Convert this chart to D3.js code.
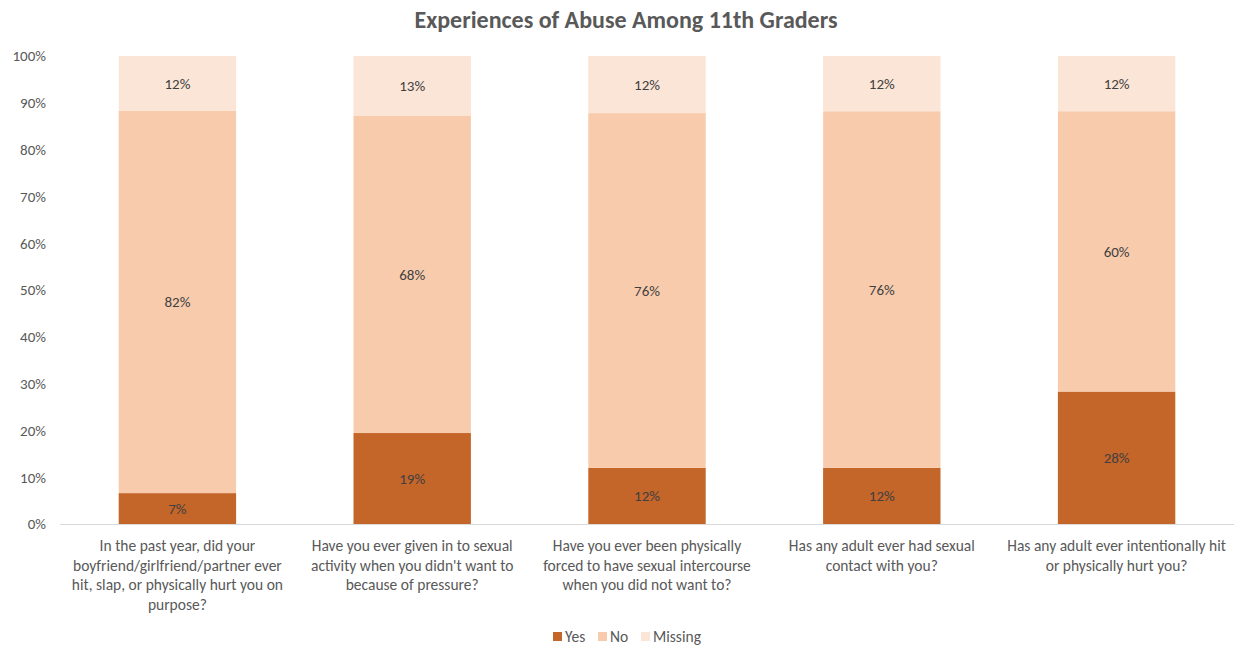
<html>
<head>
    <style>
        body { margin: 0; background: #fff; }
        text { font-family: Carlito, Lato, "Liberation Sans", sans-serif; }
        .tick text { fill: #595959; font-size: 15px; }
        .cat text { fill: #595959; font-size: 15.5px; text-anchor: middle; }
        .lbl { fill: #404040; font-size: 15px; text-anchor: middle; }
        .title { fill: #595959; font-size: 24px; font-weight: bold; text-anchor: middle; }
        .legend text { fill: #595959; font-size: 15.5px; }
    </style>
    <script src="https://d3js.org/d3.v7.min.js"></script>
</head>
<body>
    <svg width="1242" height="647"></svg>
    <script>
        // questions (line breaks as shown on the chart)
        var categories = [
            "In the past year, did your\nboyfriend/girlfriend/partner ever\nhit, slap, or physically hurt you on\npurpose?",
            "Have you ever given in to sexual\nactivity when you didn't want to\nbecause of pressure?",
            "Have you ever been physically\nforced to have sexual intercourse\nwhen you did not want to?",
            "Has any adult ever had sexual\ncontact with you?",
            "Has any adult ever intentionally hit\nor physically hurt you?"
        ];
        var seriesNames = ["Yes", "No", "Missing"];
        var yes = [6.6, 19.4, 12.0, 12.0, 28.3];
        var no = [81.7, 67.6, 75.8, 76.2, 59.9];
        var missing = [11.7, 12.8, 12.2, 11.8, 11.8];
        var yTicks = [0, 0.1, 0.2, 0.3, 0.4, 0.5, 0.6, 0.7, 0.8, 0.9, 1];
        var colors = ["#C46529", "#F8CBAD", "#FBE5D6"];

        var svg = d3.select("svg"),
            plotLeft = 60, plotRight = 1234, plotTop = 56, plotBottom = 524;

        var rows = categories.map(function(c, i) {
            var total = yes[i] + no[i] + missing[i];
            return { cat: c, Yes: yes[i] / total, No: no[i] / total, Missing: missing[i] / total,
                     raw: { Yes: yes[i], No: no[i], Missing: missing[i] } };
        });

        var x = d3.scaleBand().domain(categories).range([plotLeft, plotRight]).paddingInner(0.5).paddingOuter(0.25);
        var y = d3.scaleLinear().domain([0, 1]).range([plotBottom, plotTop]);
        var color = d3.scaleOrdinal().domain(seriesNames).range(colors);

        var stacked = d3.stack().keys(seriesNames)(rows);

        svg.append("text")
           .attr("class", "title")
           .attr("x", 626).attr("y", 28)
           .text("Experiences of Abuse Among 11th Graders");

        // y axis
        var yAxis = svg.append("g")
           .attr("transform", "translate(" + plotLeft + ",0)")
           .call(d3.axisLeft(y).tickValues(yTicks).tickFormat(d3.format(".0%")).tickSize(0).tickPadding(14));
        yAxis.select(".domain").remove();

        var layer = svg.selectAll(".layer")
           .data(stacked)
           .enter().append("g")
           .attr("class", "layer")
           .attr("fill", function(d) { return color(d.key); });

        layer.selectAll("rect")
             .data(function(d) { return d; })
             .enter().append("rect")
             .attr("x", function(d) { return x(d.data.cat); })
             .attr("width", x.bandwidth())
             .attr("y", function(d) { return y(d[1]); })
             .attr("height", function(d) { return y(d[0]) - y(d[1]); });

        layer.each(function(s) {
            d3.select(this).selectAll(".lbl")
              .data(s)
              .enter().append("text")
              .attr("class", "lbl")
              .attr("x", function(d) { return x(d.data.cat) + x.bandwidth() / 2; })
              .attr("y", function(d) { return (y(d[0]) + y(d[1])) / 2; })
              .attr("dy", "0.35em")
              .text(function(d) { return Math.round(d.data.raw[s.key]) + "%"; });
        });

        // bottom axis line
        svg.append("line")
           .attr("x1", plotLeft).attr("x2", plotRight)
           .attr("y1", plotBottom + 0.5).attr("y2", plotBottom + 0.5)
           .attr("stroke", "#d9d9d9").attr("stroke-width", 1);

        // category labels
        var cat = svg.append("g").attr("class", "cat");
        categories.forEach(function(c) {
            var t = cat.append("text").attr("x", x(c) + x.bandwidth() / 2).attr("y", 551);
            c.split("\n").forEach(function(line, k) {
                t.append("tspan")
                 .attr("x", x(c) + x.bandwidth() / 2)
                 .attr("dy", k === 0 ? 0 : 19.5)
                 .text(line);
            });
        });

        // legend
        var legend = svg.append("g").attr("class", "legend");
        var lx = [553, 598, 641];
        seriesNames.forEach(function(n, i) {
            legend.append("rect").attr("x", lx[i]).attr("y", 632).attr("width", 9).attr("height", 9)
                  .attr("fill", color(n));
            legend.append("text").attr("x", lx[i] + 12).attr("y", 642).text(n);
        });
    </script>
</body>
</html>
